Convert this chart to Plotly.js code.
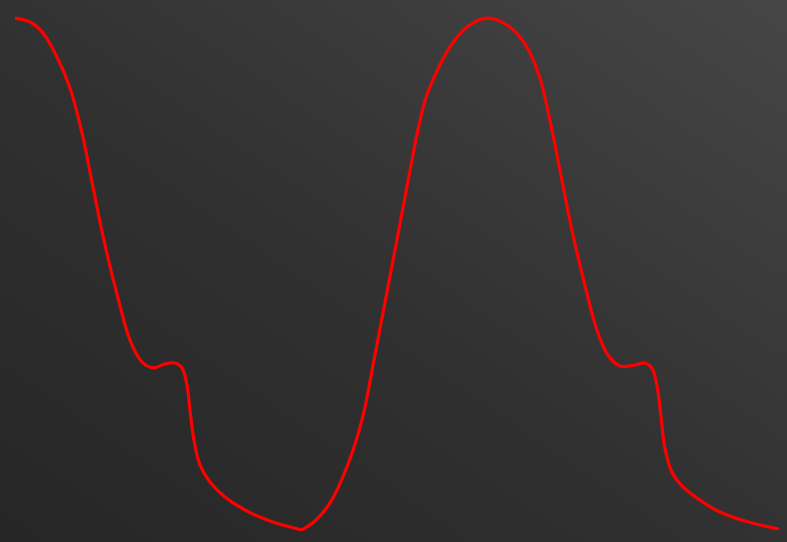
<!DOCTYPE html>
<html>
<head>
<meta charset="utf-8">
<script src="https://cdn.plot.ly/plotly-3.0.1.min.js"></script>
<style>
  html, body { margin: 0; padding: 0; }
  #chart { width: 787px; height: 542px; background: linear-gradient(to top right, #262626 0%, #303030 45%, #464646 100%); }
</style>
</head>
<body>
<div id="chart"></div>
<script>
// Arterial pressure waveform: time (s), pressure (mmHg)
// Segment 1: first systolic peak down to the end-diastolic minimum
const timeSeg1 = [0, 0.0254, 0.0474, 0.0710, 0.0930, 0.1133, 0.1319, 0.1522, 0.1742, 0.1945, 0.2148, 0.2334,
                  0.2537, 0.2706, 0.2825, 0.2909, 0.2960, 0.3027, 0.3129, 0.3298, 0.3552, 0.3890, 0.4313, 0.4854];
const pressSeg1 = [120.00, 119.69, 118.83, 116.95, 114.53, 111.02, 106.80, 102.27, 98.13, 94.84, 93.13, 92.66,
                   92.97, 93.05, 92.66, 91.33, 89.38, 87.03, 85.08, 83.75, 82.58, 81.56, 80.70, 80.00];
// Segment 2: upstroke from the minimum, second beat and its decay
const timeSeg2 = [0.4854, 0.5074, 0.5328, 0.5615, 0.5869, 0.6089, 0.6309, 0.6512, 0.6681, 0.6816, 0.6951, 0.7121, 0.7357, 0.7645, 0.8000,
                  0.8372, 0.8660, 0.8879, 0.9049, 0.9218, 0.9421, 0.9641, 0.9844, 1.0030, 1.0233,
                  1.0486, 1.0655, 1.0774, 1.0858, 1.0926, 1.0994, 1.1112, 1.1281, 1.1535, 1.1890, 1.2347, 1.2922];
const pressSeg2 = [80.00, 80.70, 82.11, 84.92, 88.59, 93.67, 98.98, 103.91, 108.05, 111.25, 113.75, 115.70, 117.73, 119.30, 120.00,
                   119.30, 117.73, 115.31, 112.03, 108.13, 103.44, 99.14, 95.63, 93.67, 92.81,
                   92.89, 93.05, 92.66, 91.33, 88.98, 86.41, 84.53, 83.44, 82.50, 81.48, 80.70, 80.08];

const lineStyle = { color: '#ff0000', width: 3.2, shape: 'spline', smoothing: 1 };
const traces = [
  { x: timeSeg1, y: pressSeg1, type: 'scatter', mode: 'lines', line: lineStyle, hoverinfo: 'skip' },
  { x: timeSeg2, y: pressSeg2, type: 'scatter', mode: 'lines', line: lineStyle, hoverinfo: 'skip' }
];
const layout = {
  width: 787, height: 542,
  margin: { l: 0, r: 0, t: 0, b: 0 },
  paper_bgcolor: 'rgba(0,0,0,0)', plot_bgcolor: 'rgba(0,0,0,0)',
  showlegend: false,
  xaxis: { range: [-0.0254, 1.306], visible: false, fixedrange: true },
  yaxis: { range: [79.06, 121.41], visible: false, fixedrange: true }
};
Plotly.newPlot('chart', traces, layout, { displayModeBar: false, staticPlot: true });
</script>
</body>
</html>
